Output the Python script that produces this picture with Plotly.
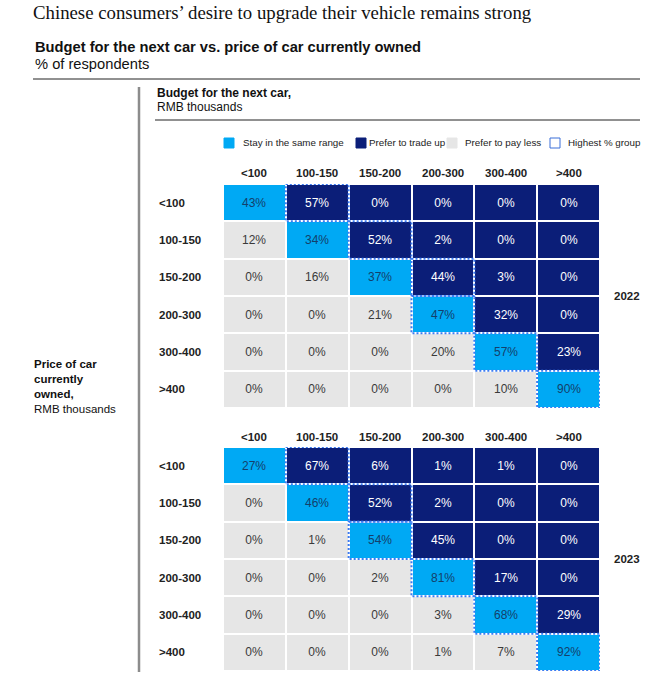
import plotly.graph_objects as go

# ---------------- data ----------------
categories = ["<100", "100-150", "150-200", "200-300", "300-400", ">400"]
years = ["2022", "2023"]
values_2022 = [
    [43, 57, 0, 0, 0, 0],
    [12, 34, 52, 2, 0, 0],
    [0, 16, 37, 44, 3, 0],
    [0, 0, 21, 47, 32, 0],
    [0, 0, 0, 20, 57, 23],
    [0, 0, 0, 0, 10, 90],
]
values_2023 = [
    [27, 67, 6, 1, 1, 0],
    [0, 46, 52, 2, 0, 0],
    [0, 1, 54, 45, 0, 0],
    [0, 0, 2, 81, 17, 0],
    [0, 0, 0, 3, 68, 29],
    [0, 0, 0, 1, 7, 92],
]
legend_labels = ["Stay in the same range", "Prefer to trade up", "Prefer to pay less", "Highest % group"]

# ---------------- style ----------------
W, H = 660, 683
C_SAME = "#00A9F4"
C_UP = "#0B1E78"
C_LESS = "#E6E6E6"
C_BORDER = "#3B7BF2"
TXT = {"same": "#143F6B", "up": "#FFFFFF", "less": "#3A3A3A"}
COL = {"same": C_SAME, "up": C_UP, "less": C_LESS}
SANS = "Liberation Sans, Arial, sans-serif"
SERIF = "Liberation Serif, Times New Roman, serif"


def px(x):
    return x / W


def py(y):
    return 1 - y / H


def kind(i, j):
    if i == j:
        return "same"
    return "up" if j > i else "less"


fig = go.Figure()

blocks = [
    (values_2022, "x", "y", 173),
    (values_2023, "x2", "y2", 437),
]

shapes = []
annotations = []

for (vals, xa, ya, head_y), year in zip(blocks, years):
    for k in ["same", "up", "less"]:
        z = []
        txt = []
        for i, row in enumerate(vals):
            zr, tr = [], []
            for j, v in enumerate(row):
                if kind(i, j) == k:
                    zr.append(1)
                    tr.append(f"{v}%")
                else:
                    zr.append(None)
                    tr.append("")
            z.append(zr)
            txt.append(tr)
        fig.add_trace(go.Heatmap(
            x=categories, y=categories, z=z, text=txt,
            texttemplate="%{text}",
            textfont=dict(family=SANS, size=12, color=TXT[k]),
            colorscale=[[0, COL[k]], [1, COL[k]]],
            showscale=False, xgap=2, ygap=2, hoverinfo="skip",
            xaxis=xa, yaxis=ya,
        ))
    # highest % group borders
    for i, row in enumerate(vals):
        j = max(range(len(row)), key=lambda c: row[c])
        shapes.append(dict(
            type="rect", xref=xa, yref=ya,
            x0=j - 0.5, x1=j + 0.5, y0=i - 0.5, y1=i + 0.5,
            line=dict(color=C_BORDER, width=2, dash="2px,2px"),
            fillcolor="rgba(0,0,0,0)", layer="above",
        ))
    # column headers
    for j, c in enumerate(categories):
        annotations.append(dict(
            text=f"<b>{c}</b>", xref=xa, yref="paper", x=j, y=py(head_y),
            xanchor="center", yanchor="middle", showarrow=False,
            font=dict(family=SANS, size=11.5, color="#222"),
        ))
    # row labels
    for i, c in enumerate(categories):
        annotations.append(dict(
            text=f"<b>{c}</b>", xref="paper", yref=ya, x=px(157), y=i,
            xanchor="left", yanchor="middle", showarrow=False,
            font=dict(family=SANS, size=11.5, color="#222"),
        ))
    # year label
    annotations.append(dict(
        text=f"<b>{year}</b>", xref="paper", yref=ya, x=px(612), y=2.5,
        xanchor="left", yanchor="middle", showarrow=False,
        font=dict(family=SANS, size=11.5, color="#222"),
    ))

# titles
annotations += [
    dict(text="Chinese consumers’ desire to upgrade their vehicle remains strong",
         xref="paper", yref="paper", x=px(31), y=py(12), xanchor="left", yanchor="middle",
         showarrow=False, font=dict(family=SERIF, size=18.8, color="#111")),
    dict(text="<b>Budget for the next car vs. price of car currently owned</b>",
         xref="paper", yref="paper", x=px(33), y=py(47), xanchor="left", yanchor="middle",
         showarrow=False, font=dict(family=SANS, size=14.7, color="#111")),
    dict(text="% of respondents",
         xref="paper", yref="paper", x=px(33), y=py(64), xanchor="left", yanchor="middle",
         showarrow=False, font=dict(family=SANS, size=14.7, color="#111")),
    dict(text="<b>Budget for the next car,</b>",
         xref="paper", yref="paper", x=px(155), y=py(93), xanchor="left", yanchor="middle",
         showarrow=False, font=dict(family=SANS, size=12, color="#111")),
    dict(text="RMB thousands",
         xref="paper", yref="paper", x=px(155), y=py(107), xanchor="left", yanchor="middle",
         showarrow=False, font=dict(family=SANS, size=12, color="#111")),
    dict(text="<b>Price of car<br>currently<br>owned,</b><br>RMB thousands",
         xref="paper", yref="paper", x=px(32), y=py(386), xanchor="left", yanchor="middle",
         align="left", showarrow=False,
         font=dict(family=SANS, size=11.5, color="#111")),
]

# legend
legend_items = [
    (224, 241, C_SAME, C_SAME),
    (356, 367, C_UP, C_UP),
    (447, 463, C_LESS, C_LESS),
    (550, 566, "#FFFFFF", "#3B6FD8"),
]
for (sx, tx, fill, edge), lab in zip(legend_items, legend_labels):
    shapes.append(dict(
        type="rect", xref="paper", yref="paper",
        x0=px(sx), x1=px(sx + 10), y0=py(148), y1=py(138),
        fillcolor=fill, line=dict(color=edge, width=1),
    ))
    annotations.append(dict(
        text=lab, xref="paper", yref="paper", x=px(tx), y=py(143),
        xanchor="left", yanchor="middle", showarrow=False,
        font=dict(family=SANS, size=9.8, color="#222"),
    ))

# rules
shapes += [
    dict(type="line", xref="paper", yref="paper", x0=px(33), x1=px(640), y0=py(79), y1=py(79),
         line=dict(color="#222", width=1)),
    dict(type="line", xref="paper", yref="paper", x0=px(155), x1=px(640), y0=py(120), y1=py(120),
         line=dict(color="#222", width=1)),
    dict(type="line", xref="paper", yref="paper", x0=px(139), x1=px(139), y0=py(87), y1=py(672),
         line=dict(color="#8C8C8C", width=2.5)),
]

axis_common = dict(showgrid=False, zeroline=False, showline=False, showticklabels=False,
                   ticks="", type="category")
xdom = [px(223), px(600)]
fig.update_layout(
    width=W, height=H,
    margin=dict(l=0, r=0, t=0, b=0),
    paper_bgcolor="white", plot_bgcolor="white",
    showlegend=False,
    xaxis=dict(domain=xdom, anchor="y", range=[-0.5, 5.5], **axis_common),
    yaxis=dict(domain=[py(408), py(184)], anchor="x", range=[5.5, -0.5], **axis_common),
    xaxis2=dict(domain=xdom, anchor="y2", range=[-0.5, 5.5], **axis_common),
    yaxis2=dict(domain=[py(671), py(447)], anchor="x2", range=[5.5, -0.5], **axis_common),
    shapes=shapes,
    annotations=annotations,
)

fig.write_html(
    "out.html",
    config={"displayModeBar": False},
    post_script="document.body.style.margin='0px';document.body.style.overflow='hidden';",
)
